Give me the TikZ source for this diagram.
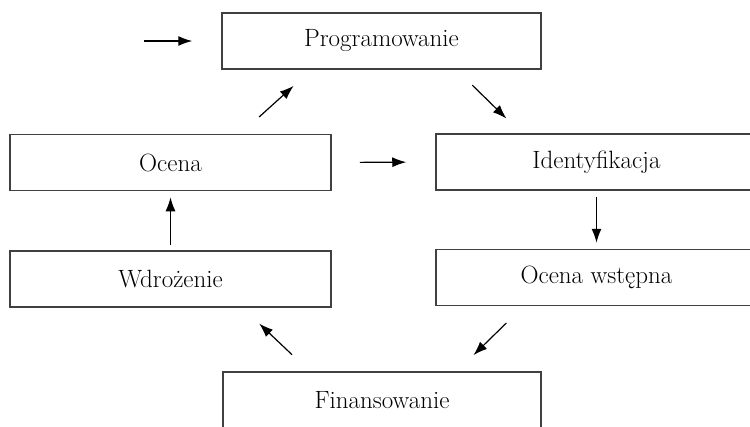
\documentclass[tikz,border=0pt]{standalone}
\usetikzlibrary{arrows.meta}
\begin{document}
\begin{tikzpicture}[x=1pt,y=-1pt,
  stagebox/.style={draw=black!75, line width=1.5pt, rectangle, inner sep=0pt,
    minimum height=56pt, font=\fontsize{25}{28}\selectfont},
  flow/.style={-{Latex[length=14pt,width=10pt]}, line width=1.2pt, black}]
  \useasboundingbox (0,0) rectangle (750,426);
  \clip (0,0) rectangle (750,426);

  % stages of the cycle
  \node[stagebox, minimum width=319pt] (prog)    at (381.5,41)    {Programowanie};
  \node[stagebox, minimum width=321pt] (ocena)   at (170.5,162.5) {Ocena};
  \node[stagebox, minimum width=321pt] (ident)   at (596.5,162)   {Identyfikacja};
  \node[stagebox, minimum width=321pt] (wdroz)   at (170.5,279)   {Wdrożenie};
  \node[stagebox, minimum width=321pt] (wstep)   at (596.5,277.5) {Ocena wstępna};
  \node[stagebox, minimum width=318pt] (finans)  at (382,400)     {Finansowanie};

  % entry into the cycle
  \coordinate (entry) at (144,41);
  \draw[flow, shorten >=29pt] (entry) -- (prog.west);

  % cycle connectors
  \draw[flow, shorten <=22pt, shorten >=21pt]
    ([xshift=75pt]prog.south) -- ([xshift=-75pt]ident.north);
  \draw[flow, shorten <=6pt, shorten >=6pt] (ident.south) -- (wstep.north);
  \draw[flow, shorten <=24pt, shorten >=23pt]
    ([xshift=-73pt]wstep.south) -- ([xshift=75pt]finans.north);
  \draw[flow, shorten <=24pt, shorten >=23pt]
    ([xshift=-72.5pt]finans.north) -- ([xshift=72pt]wdroz.south);
  \draw[flow, shorten <=5pt, shorten >=6pt] (wdroz.north) -- (ocena.south);
  \draw[flow, shorten <=25pt, shorten >=24pt]
    ([xshift=70pt]ocena.north) -- ([xshift=-70pt]prog.south);
  \draw[flow, shorten <=28pt, shorten >=29pt] (ocena.east) -- (ident.west);
\end{tikzpicture}
\end{document}
